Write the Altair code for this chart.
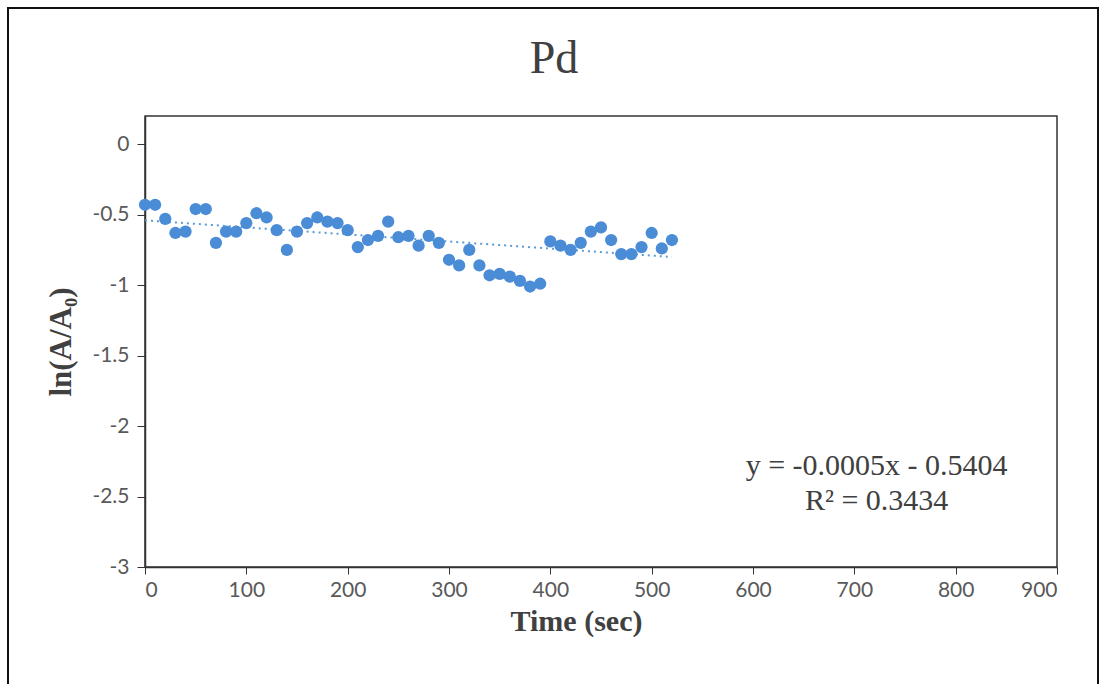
import altair as alt
import pandas as pd

# Data
time_sec = list(range(0, 530, 10))
ln_ratio = [
    -0.43, -0.43, -0.53, -0.63, -0.62, -0.46, -0.46, -0.70, -0.62, -0.62,
    -0.56, -0.49, -0.52, -0.61, -0.75, -0.62, -0.56, -0.52, -0.55, -0.56,
    -0.61, -0.73, -0.68, -0.65, -0.55, -0.66, -0.65, -0.72, -0.65, -0.70,
    -0.82, -0.86, -0.75, -0.86, -0.93, -0.92, -0.94, -0.97, -1.01, -0.99,
    -0.69, -0.72, -0.75, -0.70, -0.62, -0.59, -0.68, -0.78, -0.78, -0.73,
    -0.63, -0.74, -0.68,
]
trend_slope = -0.0005
trend_intercept = -0.5404
trend_x = [0, 520]
eq_line1 = "y = -0.0005x  - 0.5404"
eq_line2 = "R\u00b2 = 0.3434"
title_text = "Pd"
x_title = "Time (sec)"
y_title = "ln(A/A\u2080)"
x_ticks = list(range(0, 1000, 100))
y_ticks = [-3, -2.5, -2, -1.5, -1, -0.5, 0]

pts = pd.DataFrame({"t": time_sec, "v": ln_ratio})
trend = pd.DataFrame({"t": trend_x, "v": [trend_slope * x + trend_intercept for x in trend_x]})

xscale = alt.Scale(domain=[0, 900], nice=False, zero=False)
yscale = alt.Scale(domain=[-3, 0.2], nice=False, zero=False)

xaxis = alt.Axis(
    values=x_ticks, title=x_title, grid=False, tickSize=7, labelPadding=5,
    labelFont="Lato", labelFontSize=21, labelColor="#595959",
    titleFont="Liberation Serif", titleFontSize=30, titleFontWeight="bold",
    titleColor="#404040", titlePadding=6, titleX=431,
    domainColor="#333333", tickColor="#333333", domainWidth=1.5,
)
yaxis = alt.Axis(
    values=y_ticks, title=y_title, grid=False, tickSize=8, labelPadding=8,
    labelFont="Lato", labelFontSize=21, labelColor="#595959",
    labelExpr="'' + datum.value",
    titleFont="Liberation Serif", titleFontSize=31, titleFontWeight="bold",
    titleColor="#404040", titlePadding=14,
    domainColor="#333333", tickColor="#333333", domainWidth=1.5,
)

points = alt.Chart(pts).mark_circle(size=150, color="#4A8CD6", opacity=1).encode(
    x=alt.X("t:Q", scale=xscale, axis=xaxis),
    y=alt.Y("v:Q", scale=yscale, axis=yaxis),
)

trend_line = alt.Chart(trend).mark_line(
    color="#5B9BD5", strokeDash=[2, 4], strokeWidth=2
).encode(x=alt.X("t:Q", scale=xscale), y=alt.Y("v:Q", scale=yscale))

one = pd.DataFrame({"a": [0]})
eq1 = alt.Chart(one).mark_text(
    font="Liberation Serif", fontSize=30, color="#404040", align="center", baseline="middle"
).encode(x=alt.datum(722), y=alt.datum(-2.28), text=alt.value(eq_line1))
eq2 = alt.Chart(one).mark_text(
    font="Liberation Serif", fontSize=30, color="#404040", align="center", baseline="middle"
).encode(x=alt.datum(722), y=alt.datum(-2.53), text=alt.value(eq_line2))

title = alt.Chart(one).mark_text(
    font="Liberation Serif", fontSize=46, color="#404040", align="center", baseline="middle"
).encode(x=alt.value(409), y=alt.value(-57), text=alt.value(title_text))

border = alt.Chart(one).mark_rect(
    fill=None, stroke="#111111", strokeWidth=2
).encode(x=alt.value(-137), x2=alt.value(953), y=alt.value(-108), y2=alt.value(590))

chart = alt.layer(trend_line, points, eq1, eq2, title, border).properties(
    width=912, height=451,
    autosize=alt.AutoSizeParams(type="none"),
    padding={"left": 145, "top": 116, "right": 46, "bottom": 117},
    background="white",
).configure_view(stroke="#333333", strokeWidth=1.5)

chart.save("out.html", embed_options={"renderer": "svg", "actions": False})
